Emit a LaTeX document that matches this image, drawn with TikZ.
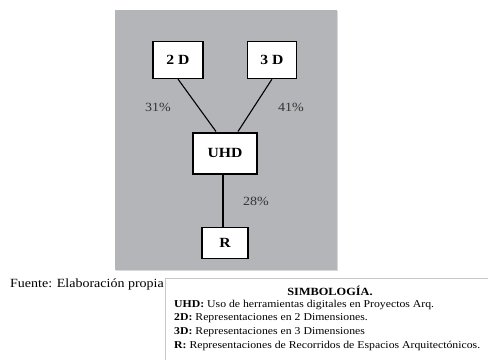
\documentclass[tikz,border=0pt]{standalone}
\usepackage{fontspec}
\setmainfont{Liberation Serif}[FakeStretch=1.12]
\usepackage{tikz}
\usetikzlibrary{positioning}

\definecolor{fondo}{HTML}{B4B5B8}
\definecolor{marco}{HTML}{C8C8C8}

\begin{document}
\begin{tikzpicture}[x=1pt, y=-1pt,
  caja/.style={draw, fill=white, line width=1.2pt, font=\bfseries\fontsize{14}{16}\selectfont, inner sep=0pt},
  pct/.style={font=\fontsize{12.5}{14}\selectfont, text=black!80},
  leyenda/.style={font=\fontsize{10.5}{12}\selectfont, anchor=west, inner sep=0pt}]
  \useasboundingbox (0,0) rectangle (488,360);
  % fondo gris
  \fill[fondo] (115,10) rectangle (337,270);
  \draw[white!85!black, line width=1pt] (337,11) -- (337,270) -- (116,270);
  \node[caja, minimum width=50pt, minimum height=37pt] (n2d) at (178,60)  {2 D};
  \node[caja, minimum width=49pt, minimum height=37pt] (n3d) at (272,60)  {3 D};
  \node[caja, minimum width=64pt, minimum height=41pt, line width=2pt] (uhd) at (225,153) {UHD};
  \node[caja, minimum width=46pt, minimum height=31pt] (r)   at (225,243) {R};
  \draw[line width=1.1pt] (n2d.south) -- ([xshift=-9pt]uhd.north);
  \draw[line width=1.1pt] (n3d.south) -- ([xshift=13pt]uhd.north);
  \draw[line width=1.1pt] ([xshift=-2pt]uhd.south) -- ([xshift=-2pt]r.north);
  \node[pct] (p31) at (158,107) {31\%};
  \node[pct] (p41) at (291,107) {41\%};
  \node[pct] (p28) at (256,201) {28\%};
  % fuente y simbologia
  \node[anchor=west, inner sep=0pt, font=\fontsize{12.5}{14}\selectfont] (fuente) at (10,284) {Fuente: Elaboración propia};
  \fill[white] (165,278) rectangle (488,360);
  \draw[marco, line width=0.8pt] (165,360) -- (165,278) -- (488,278);
  \node[font=\bfseries\fontsize{11}{13}\selectfont] (titulo) at (330,291) {SIMBOLOGÍA.};
  \node[leyenda] (l1) at (174,305) {\textbf{UHD:} Uso de herramientas digitales en Proyectos Arq.};
  \node[leyenda] (l2) at (174,318.5) {\textbf{2D:} Representaciones en 2 Dimensiones.};
  \node[leyenda] (l3) at (174,332) {\textbf{3D:} Representaciones en 3 Dimensiones};
  \node[leyenda] (l4) at (174,346) {\textbf{R:} Representaciones de Recorridos de Espacios Arquitectónicos.};
\end{tikzpicture}
\end{document}
